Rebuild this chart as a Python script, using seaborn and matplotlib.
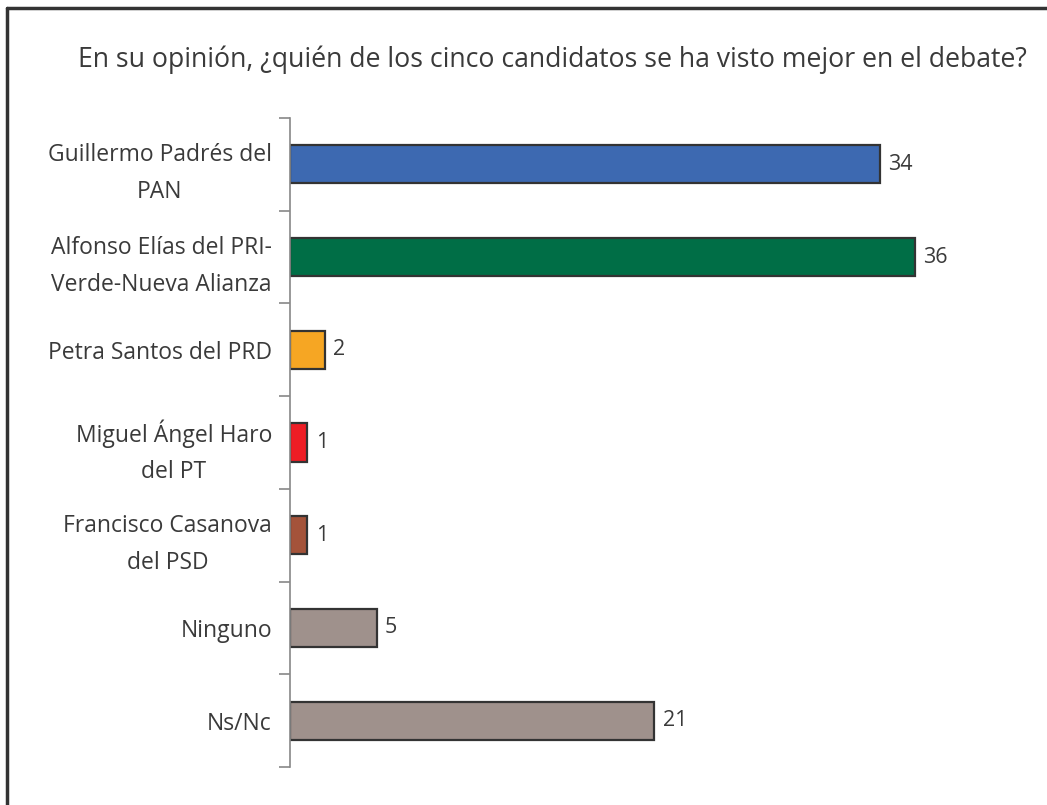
import matplotlib
matplotlib.use("Agg")
import matplotlib.pyplot as plt
from matplotlib.lines import Line2D
import seaborn as sns
import pandas as pd

categorias = ["Guillermo Padrés del\nPAN",
              "Alfonso Elías del PRI-\nVerde-Nueva Alianza",
              "Petra Santos del PRD",
              "Miguel Ángel Haro\ndel PT",
              "Francisco Casanova\ndel PSD",
              "Ninguno",
              "Ns/Nc"]
valores = [34, 36, 2, 1, 1, 5, 21]
colores = ["#3D69B1", "#006E46", "#F6A623", "#EE1D25", "#A4533A", "#9F918C", "#9F918C"]

sns.set_style("white")
plt.rcParams["font.family"] = ["Open Sans", "DejaVu Sans"]
texto = "#3a3a3a"

df = pd.DataFrame({"cat": categorias, "val": valores})

fig = plt.figure(figsize=(10.47, 8.05), dpi=100)
ax = fig.add_axes([290/1047, 1 - 767/805, 694/1047, (767 - 118)/805])

sns.barplot(data=df, y="cat", x="val", hue="cat", palette=colores, legend=False,
            orient="h", width=0.41, edgecolor="#333333", linewidth=1.6,
            saturation=1, ax=ax)

for c in ax.containers:
    ax.bar_label(c, padding=6, fontsize=15.5, color=texto)

ax.set_xlim(0, 40)
ax.set_ylim(6.5, -0.5)
ax.set_xlabel("")
ax.set_ylabel("")
ax.set_xticks([])
for s in ["top", "right", "bottom"]:
    ax.spines[s].set_visible(False)
ax.spines["left"].set_color("#888888")
ax.spines["left"].set_linewidth(1.2)

ax.set_yticks(range(len(categorias)))
ax.set_yticklabels(categorias, fontsize=16.5, color=texto, multialignment="center",
                   linespacing=1.7)
ax.tick_params(axis="y", which="major", left=False, length=0, pad=13)
ax.set_yticks([i - 0.5 for i in range(len(categorias) + 1)], minor=True)
ax.tick_params(axis="y", which="minor", left=True, length=8, width=1.2,
               color="#888888", direction="out")

fig.text(552/1047, 1 - 60/805,
         "En su opinión, ¿quién de los cinco candidatos se ha visto mejor en el debate?",
         ha="center", va="center", fontsize=19.2, color=texto)

fig.add_artist(Line2D([7/1047, 7/1047], [0, 1 - 8/805], color="#333333", lw=2.5))
fig.add_artist(Line2D([7/1047, 1], [1 - 8/805, 1 - 8/805], color="#333333", lw=2.5))

fig.savefig("out.png", dpi=100)
